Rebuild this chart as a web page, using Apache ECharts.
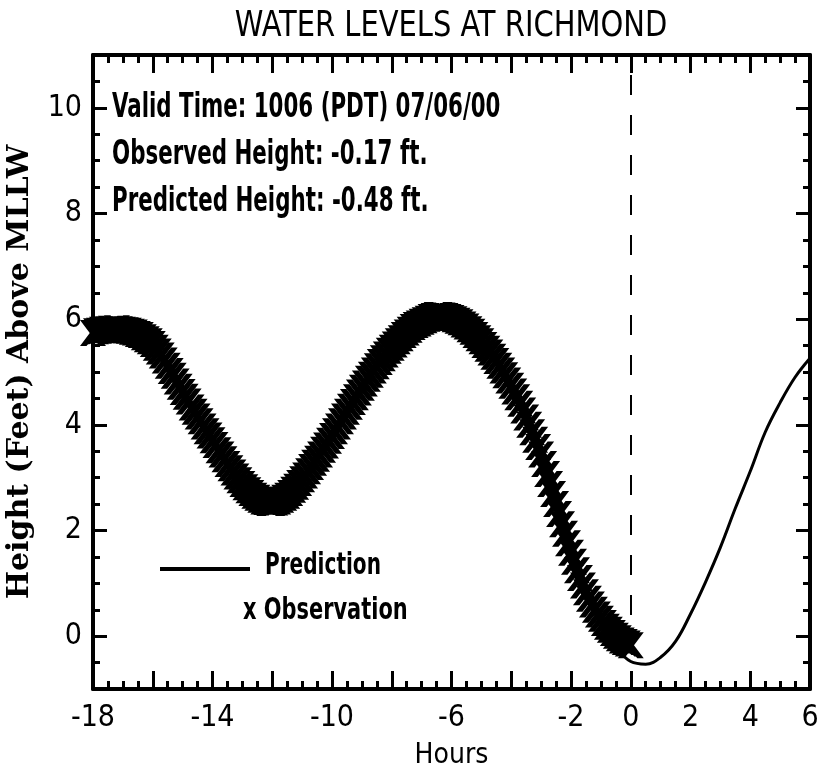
<!DOCTYPE html>
<html>
<head>
<meta charset="utf-8">
<title>Water Levels at Richmond</title>
<script src="https://cdn.jsdelivr.net/npm/echarts@6/dist/echarts.min.js"></script>
<style>
html, body { margin: 0; padding: 0; background: #fff; }
#chart { width: 818px; height: 772px; }
</style>
</head>
<body>
<div id="chart"></div>
<script>
// observations, one every 0.1 h from -18 h to 0 h
const obsStart = -18
const obsStep = 0.1
const obsHeight = [
    5.74, 5.77, 5.78, 5.80, 5.79, 5.81, 5.82, 5.80, 5.83, 5.81, 5.80,
    5.79, 5.78, 5.76, 5.75, 5.72, 5.70, 5.66, 5.62, 5.58, 5.53,
    5.46, 5.39, 5.31, 5.22, 5.12, 5.02, 4.93, 4.82, 4.72, 4.62,
    4.53, 4.44, 4.33, 4.25, 4.16, 4.07, 3.97, 3.88, 3.80, 3.71,
    3.62, 3.52, 3.44, 3.35, 3.26, 3.18, 3.10, 3.02, 2.95, 2.88,
    2.82, 2.76, 2.71, 2.66, 2.62, 2.58, 2.55, 2.54, 2.52, 2.52,
    2.53, 2.55, 2.58, 2.62, 2.66, 2.71, 2.77, 2.83, 2.90, 2.97,
    3.04, 3.12, 3.20, 3.28, 3.36, 3.44, 3.53, 3.61, 3.70, 3.79,
    3.88, 3.97, 4.07, 4.16, 4.25, 4.34, 4.43, 4.52, 4.61, 4.70,
    4.78, 4.87, 4.95, 5.03, 5.11, 5.19, 5.26, 5.33, 5.40, 5.46,
    5.52, 5.58, 5.64, 5.70, 5.75, 5.80, 5.85, 5.89, 5.92, 5.95,
    5.98, 6.01, 6.04, 6.06, 6.08, 6.08, 6.07, 6.06, 6.04, 6.02,
    6.00, 5.97, 5.94, 5.90, 5.86, 5.81, 5.76, 5.70, 5.64, 5.58,
    5.51, 5.44, 5.37, 5.29, 5.21, 5.12, 5.03, 4.94, 4.84, 4.74,
    4.63, 4.52, 4.40, 4.27, 4.14, 4.00, 3.86, 3.72, 3.58, 3.44,
    3.26, 3.07, 2.88, 2.69, 2.50, 2.31, 2.12, 1.94, 1.76, 1.58,
    1.41, 1.25, 1.10, 0.96, 0.83, 0.71, 0.60, 0.50, 0.41, 0.33,
    0.25, 0.18, 0.12, 0.06, 0.01, -0.04, -0.08, -0.11, -0.14, -0.17
]

// prediction, one every 0.5 h from -18 h to +6 h
const predStart = -18
const predStep = 0.5
const predHeight = [
    5.70, 5.78, 5.78, 5.66, 5.45, 5.08, 4.60, 4.14, 3.68, 3.24, 2.86, 2.60,
    2.50, 2.60, 2.90, 3.32, 3.78, 4.26, 4.72, 5.12, 5.46, 5.74, 5.93, 6.04,
    6.01, 5.85, 5.56, 5.18, 4.70, 4.10, 3.40, 2.48, 1.56, 0.84, 0.24, -0.20,
    -0.48, -0.53, -0.40, -0.10, 0.42, 1.02, 1.68, 2.42, 3.12, 3.86, 4.42, 4.90,
    5.26
]

const xLabels = [-18, -14, -10, -6, -2, 0, 2, 4, 6]
const yLabels = [0, 2, 4, 6, 8, 10]
const infoLines = [
    'Valid Time: 1006 (PDT) 07/06/00',
    'Observed Height: -0.17 ft.',
    'Predicted Height: -0.48 ft.'
]
const nowHour = 0

const FONT = '"DejaVu Sans Condensed", "Liberation Sans Narrow", sans-serif'

const obsData = obsHeight.map((v, i) => [+(obsStart + i * obsStep).toFixed(1), v])
const predData = predHeight.map((v, i) => [predStart + i * predStep, v])

// filled "x" marker
const xMark = 'path://M0,0L4,0L8,5L12,0L16,0L10,8L16,16L12,16L8,11L4,16L0,16L6,8Z'

function xAxisCfg (pos) {
    return {
        type: 'value',
        position: pos,
        min: -18,
        max: 6,
        interval: 2,
        axisLine: { show: true, onZero: false, lineStyle: { color: '#000', width: 4 } },
        axisTick: { show: true, inside: true, length: 18, lineStyle: { color: '#000', width: 3 } },
        minorTick: { show: true, splitNumber: 4, length: 8, lineStyle: { color: '#000', width: 3 } },
        splitLine: { show: false },
        axisLabel: {
            show: pos === 'bottom',
            margin: 14,
            color: '#000',
            fontFamily: FONT,
            fontSize: 30,
            formatter: (v) => xLabels.includes(v) ? String(v) : ''
        },
        name: pos === 'bottom' ? 'Hours' : '',
        nameLocation: 'middle',
        nameGap: 53,
        nameTextStyle: { color: '#000', fontFamily: FONT, fontSize: 28 }
    }
}

// major y ticks (every 2 ft) and labels
function yMajorCfg (pos) {
    return {
        type: 'value',
        position: pos,
        min: -1,
        max: 11,
        splitNumber: 6,
        axisLine: { show: true, onZero: false, lineStyle: { color: '#000', width: 4 } },
        axisTick: { show: true, inside: true, length: 14, lineStyle: { color: '#000', width: 3 } },
        splitLine: { show: false },
        axisLabel: {
            show: pos === 'left',
            margin: 11,
            color: '#000',
            fontFamily: FONT,
            fontSize: 30,
            formatter: (v) => yLabels.includes(v) ? String(v) : ''
        },
        name: pos === 'left' ? 'Height (Feet) Above MLLW' : '',
        nameLocation: 'middle',
        nameGap: 58,
        nameTextStyle: {
            color: '#000',
            fontFamily: '"DejaVu Serif", serif',
            fontWeight: 'bold',
            fontSize: 30
        }
    }
}

// minor y ticks (every 0.5 ft)
function yMinorCfg (pos) {
    return {
        type: 'value',
        position: pos,
        min: -1,
        max: 11,
        interval: 0.5,
        axisLine: { show: false, onZero: false },
        axisTick: { show: true, inside: true, length: 7, lineStyle: { color: '#000', width: 3 } },
        splitLine: { show: false },
        axisLabel: { show: false }
    }
}

function label (text, x, y, size, sx, align, weight) {
    return {
        type: 'text',
        x: x,
        y: y,
        scaleX: sx,
        silent: true,
        style: {
            text: text,
            fill: '#000',
            font: (weight || 'normal') + ' ' + size + 'px ' + FONT,
            align: align || 'left',
            verticalAlign: 'middle'
        }
    }
}

const chart = echarts.init(document.getElementById('chart'))

chart.setOption({
    backgroundColor: '#fff',
    animation: false,
    grid: { left: 93, right: 8, top: 55, bottom: 83, containLabel: false, outerBoundsMode: 'none' },
    xAxis: [xAxisCfg('bottom'), xAxisCfg('top')],
    yAxis: [yMajorCfg('left'), yMinorCfg('left'), yMajorCfg('right'), yMinorCfg('right')],
    series: [
        {
            name: 'Prediction',
            type: 'line',
            data: predData,
            smooth: 0.4,
            showSymbol: false,
            lineStyle: { color: '#000', width: 3 },
            markLine: {
                silent: true,
                symbol: 'none',
                label: { show: false },
                lineStyle: { color: '#000', width: 2, type: [20, 20] },
                data: [[{ coord: [nowHour, 0.4] }, { coord: [nowHour, 11] }]]
            }
        },
        {
            name: 'Observation',
            type: 'scatter',
            data: obsData,
            symbol: xMark,
            symbolSize: 26,
            itemStyle: { color: '#000', opacity: 1 }
        }
    ],
    graphic: [
        label('WATER LEVELS AT RICHMOND', 451, 27, 35, 0.92, 'center'),
        ...infoLines.map((t, i) => label(t, 112, 108 + i * 47, 33, 0.72, 'left', 'bold')),
        {
            type: 'line',
            silent: true,
            shape: { x1: 160, y1: 569, x2: 250, y2: 569 },
            style: { stroke: '#000', lineWidth: 4 }
        },
        label('Prediction', 265, 566, 31, 0.72, 'left', 'bold'),
        label('x Observation', 243, 611, 31, 0.75, 'left', 'bold')
    ]
})
</script>
</body>
</html>
